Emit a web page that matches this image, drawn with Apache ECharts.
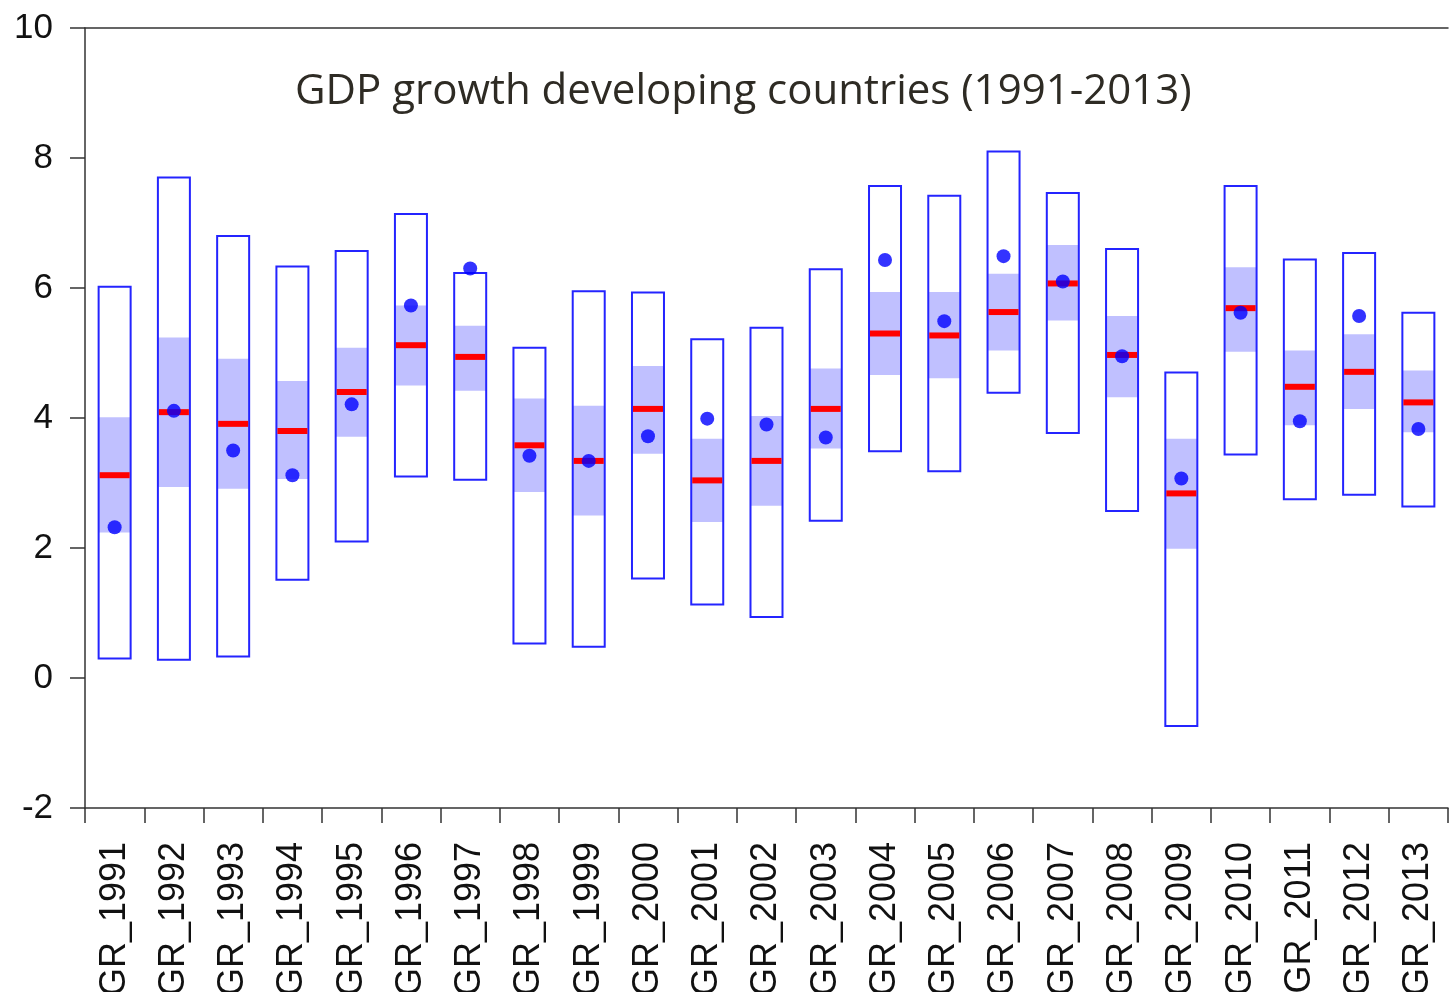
<!DOCTYPE html>
<html>
<head>
<meta charset="utf-8">
<title>GDP growth developing countries</title>
<script src="https://cdn.jsdelivr.net/npm/echarts@6/dist/echarts.min.js"></script>
<style>
    html, body { margin: 0; padding: 0; background: #fff; }
    #chart { width: 1450px; height: 992px; }
</style>
</head>
<body>
<div id="chart"></div>
<script>
// 数据
var categories = ['GR_1991', 'GR_1992', 'GR_1993', 'GR_1994', 'GR_1995', 'GR_1996', 'GR_1997', 'GR_1998',
    'GR_1999', 'GR_2000', 'GR_2001', 'GR_2002', 'GR_2003', 'GR_2004', 'GR_2005', 'GR_2006',
    'GR_2007', 'GR_2008', 'GR_2009', 'GR_2010', 'GR_2011', 'GR_2012', 'GR_2013'];
var highs = [6.02, 7.70, 6.80, 6.33, 6.57, 7.14, 6.23, 5.08, 5.95, 5.93, 5.21, 5.39, 6.29, 7.57, 7.42, 8.10, 7.46, 6.60, 4.70, 7.57, 6.44, 6.54, 5.62];
var lows = [0.30, 0.28, 0.33, 1.51, 2.10, 3.10, 3.05, 0.53, 0.48, 1.53, 1.13, 0.94, 2.42, 3.49, 3.18, 4.39, 3.77, 2.57, -0.74, 3.44, 2.75, 2.82, 2.64];
var shadeTop = [4.01, 5.24, 4.91, 4.57, 5.08, 5.73, 5.42, 4.30, 4.19, 4.80, 3.68, 4.03, 4.76, 5.94, 5.94, 6.22, 6.66, 5.57, 3.68, 6.32, 5.04, 5.29, 4.73];
var shadeBottom = [2.24, 2.94, 2.91, 3.06, 3.71, 4.50, 4.42, 2.86, 2.50, 3.45, 2.40, 2.65, 3.53, 4.66, 4.61, 5.04, 5.50, 4.32, 1.99, 5.02, 3.89, 4.14, 3.78];
var medians = [3.12, 4.09, 3.91, 3.80, 4.40, 5.12, 4.94, 3.58, 3.34, 4.14, 3.04, 3.34, 4.14, 5.30, 5.27, 5.63, 6.07, 4.97, 2.84, 5.69, 4.48, 4.71, 4.24];
var means = [2.32, 4.11, 3.50, 3.12, 4.21, 5.73, 6.30, 3.42, 3.34, 3.72, 3.99, 3.90, 3.70, 6.43, 5.49, 6.49, 6.10, 4.95, 3.07, 5.62, 3.95, 5.57, 3.83];
var yTicks = { min: -2, max: 10, interval: 2 };

(function () {
    var chart = echarts.init(document.getElementById('chart'));

    // 自定义系列的数据：[序号, 最低, 最高, 阴影下沿, 阴影上沿, 中位数]
    var boxData = categories.map(function (c, i) {
        return [i, lows[i], highs[i], shadeBottom[i], shadeTop[i], medians[i]];
    });

    function renderBox(params, api) {
        var idx = api.value(0);
        var w = api.size([1, 0])[0] * 0.54;
        var top = api.coord([idx, api.value(2)]);
        var bottom = api.coord([idx, api.value(1)]);
        var sTop = api.coord([idx, api.value(4)]);
        var sBottom = api.coord([idx, api.value(3)]);
        var med = api.coord([idx, api.value(5)]);
        var x = top[0] - w / 2;
        return {
            type: 'group',
            children: [
                {
                    type: 'rect',
                    shape: { x: x, y: top[1], width: w, height: bottom[1] - top[1] },
                    style: { fill: '#ffffff', stroke: null }
                },
                {
                    type: 'rect',
                    shape: { x: x, y: sTop[1], width: w, height: sBottom[1] - sTop[1] },
                    style: { fill: '#c0c0ff', stroke: null }
                },
                {
                    type: 'rect',
                    shape: { x: x, y: top[1], width: w, height: bottom[1] - top[1] },
                    style: { fill: null, stroke: '#2424ff', lineWidth: 2 }
                },
                {
                    type: 'rect',
                    shape: { x: x + 1, y: med[1] - 3, width: w - 2, height: 6 },
                    style: { fill: '#ff0000', stroke: null }
                }
            ]
        };
    }

    var option = {
        animation: false,
        backgroundColor: '#ffffff',
        title: {
            text: 'GDP growth developing countries (1991-2013)',
            left: 290,
            top: 66,
            textStyle: {
                fontFamily: 'Open Sans',
                fontSize: 42,
                fontWeight: 'normal',
                color: '#2e2b24'
            }
        },
        grid: {
            left: 85,
            right: 2,
            top: 28,
            bottom: 184,
            containLabel: false,
            outerBoundsMode: 'none'
        },
        xAxis: [
            {
                type: 'category',
                data: categories,
                boundaryGap: true,
                axisLine: { show: true, onZero: false, lineStyle: { color: '#333333', width: 1.5 } },
                axisTick: { show: true, length: 15, alignWithLabel: false, lineStyle: { color: '#333333', width: 1.5 } },
                axisLabel: {
                    rotate: 90,
                    margin: 34,
                    fontFamily: 'Liberation Sans',
                    fontSize: 36,
                    color: '#111111',
                    interval: 0
                },
                splitLine: { show: false }
            },
            {
                type: 'category',
                data: categories,
                position: 'top',
                axisLine: { show: true, onZero: false, lineStyle: { color: '#333333', width: 1.5 } },
                axisTick: { show: false },
                axisLabel: { show: false },
                splitLine: { show: false }
            }
        ],
        yAxis: {
            type: 'value',
            min: yTicks.min,
            max: yTicks.max,
            interval: yTicks.interval,
            axisLine: { show: true, onZero: false, lineStyle: { color: '#333333', width: 1.5 } },
            axisTick: { show: true, length: 15, lineStyle: { color: '#333333', width: 1.5 } },
            axisLabel: {
                margin: 32,
                fontFamily: 'Liberation Sans',
                fontSize: 35,
                color: '#111111'
            },
            splitLine: { show: false }
        },
        series: [
            {
                name: 'range',
                type: 'custom',
                renderItem: renderBox,
                encode: { x: 0, y: [1, 2, 3, 4, 5] },
                data: boxData,
                z: 2
            },
            {
                name: 'mean',
                type: 'scatter',
                data: means,
                symbol: 'circle',
                symbolSize: 14,
                itemStyle: { color: '#0000ff' },
                z: 3
            }
        ]
    };

    chart.setOption(option);
})();
</script>
</body>
</html>
